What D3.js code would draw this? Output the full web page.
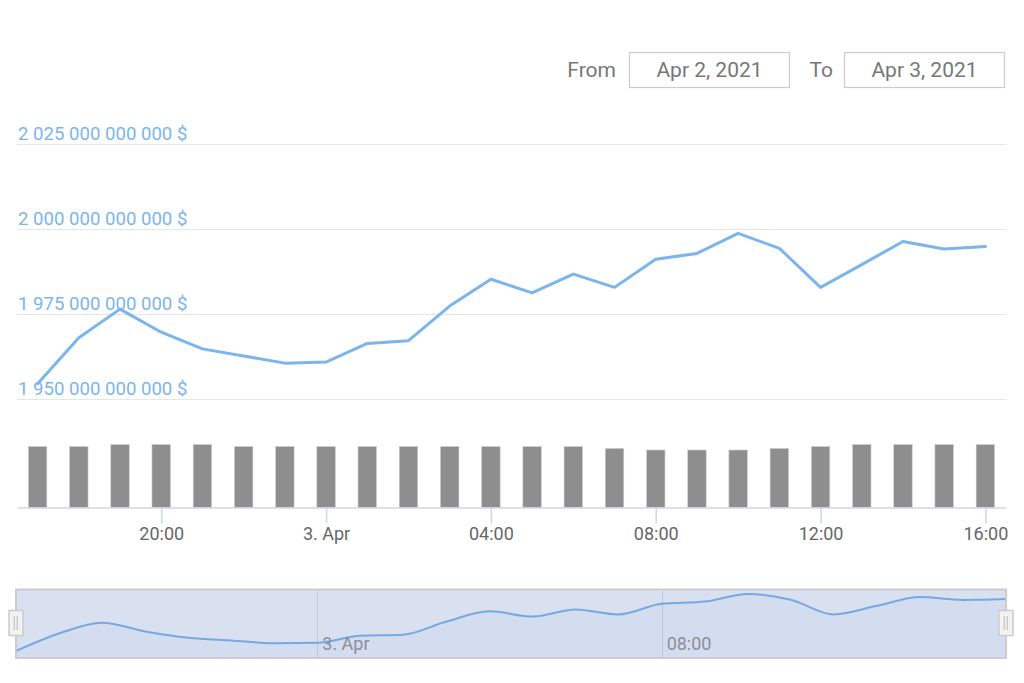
<!doctype html>
<html lang="en">
<head>
    <meta charset="UTF-8">
    <script src="https://cdnjs.cloudflare.com/ajax/libs/d3/7.0.0/d3.min.js"></script>
    <title>Market cap</title>
    <style>
        body { margin: 0; background: #fff; }
        text { font-family: Roboto, "Noto Sans", sans-serif; }
    </style>
</head>
<body>

<div id="Area"></div>

<script>

    // hourly points, Apr 2 17:00 -> Apr 3 16:00 (UTC)
    const hours = [
        "2021-04-02T17:00Z", "2021-04-02T18:00Z", "2021-04-02T19:00Z", "2021-04-02T20:00Z",
        "2021-04-02T21:00Z", "2021-04-02T22:00Z", "2021-04-02T23:00Z", "2021-04-03T00:00Z",
        "2021-04-03T01:00Z", "2021-04-03T02:00Z", "2021-04-03T03:00Z", "2021-04-03T04:00Z",
        "2021-04-03T05:00Z", "2021-04-03T06:00Z", "2021-04-03T07:00Z", "2021-04-03T08:00Z",
        "2021-04-03T09:00Z", "2021-04-03T10:00Z", "2021-04-03T11:00Z", "2021-04-03T12:00Z",
        "2021-04-03T13:00Z", "2021-04-03T14:00Z", "2021-04-03T15:00Z", "2021-04-03T16:00Z"
    ];

    // market cap, billions of $
    const marketCap = [
        1954.4, 1968.0, 1976.4, 1969.6, 1964.7, 1962.6, 1960.5, 1960.8,
        1966.3, 1967.1, 1977.3, 1985.2, 1981.2, 1986.7, 1982.8, 1991.1,
        1992.8, 1998.7, 1994.3, 1982.8, 1989.5, 1996.3, 1994.1, 1994.8
    ];

    // volume, billions of $
    const volume = [
        155, 155, 160, 160, 160, 155, 155, 155,
        155, 155, 155, 155, 155, 155, 150, 146,
        146, 146, 150, 155, 160, 160, 160, 160
    ];

    const yTicks = [1950, 1975, 2000, 2025];
    const xTicks = ["2021-04-02T20:00Z", "2021-04-03T00:00Z", "2021-04-03T04:00Z",
        "2021-04-03T08:00Z", "2021-04-03T12:00Z", "2021-04-03T16:00Z"];
    const navTicks = ["2021-04-03T00:00Z", "2021-04-03T08:00Z"];
    const rangeFrom = "Apr 2, 2021";
    const rangeTo = "Apr 3, 2021";

    const data = hours.map((h, i) => ({t: new Date(h), cap: marketCap[i], vol: volume[i]}));

    const W = 1024, H = 683;
    const left = 17, right = 1006;

    const svg = d3.select("#Area")
        .append("svg")
        .attr("width", W)
        .attr("height", H);

    const t0 = data[0].t, t1 = data[data.length - 1].t;
    const halfHour = 30 * 60 * 1000;

    const x = d3.scaleUtc()
        .domain([new Date(+t0 - halfHour), new Date(+t1 + halfHour)])
        .range([left, right]);

    const y = d3.scaleLinear().domain([1950, 2025]).range([398.8, 144]);
    const yVol = d3.scaleLinear().domain([0, 200]).range([507.5, 428.75]);

    const locale = d3.formatLocale({decimal: ".", thousands: " ", grouping: [3], currency: ["", "$"]});
    const fmtNum = locale.format(",.0f");
    const fmtCap = v => fmtNum(v * 1e9) + " $";
    const fmtTime = d => (d.getUTCHours() === 0 ? d3.utcFormat("%-d. %b")(d) : d3.utcFormat("%H:%M")(d));

    // grid + y labels
    const gridG = svg.append("g");
    gridG.selectAll("line")
        .data(yTicks)
        .join("line")
        .attr("x1", left).attr("x2", right)
        .attr("y1", d => Math.round(y(d)) + 0.5).attr("y2", d => Math.round(y(d)) + 0.5)
        .attr("stroke", "#e6e6e6")
        .attr("stroke-width", 1);

    gridG.selectAll("text")
        .data(yTicks)
        .join("text")
        .attr("x", 18)
        .attr("y", d => y(d) - 4)
        .attr("fill", "#7cb5ec")
        .attr("font-size", 18.6)
        .text(fmtCap);

    // volume bars
    const barW = 18.5;
    svg.append("g")
        .selectAll("rect")
        .data(data)
        .join("rect")
        .attr("x", d => x(d.t) - barW / 2)
        .attr("y", d => yVol(d.vol))
        .attr("width", barW)
        .attr("height", d => yVol(0) - yVol(d.vol))
        .attr("fill", "#8e8e8e")
        .attr("stroke", "#d0d0d0")
        .attr("stroke-width", 0.6);

    // x axis
    const xAxis = d3.axisBottom(x)
        .tickValues(xTicks.map(s => new Date(s)))
        .tickSize(16)
        .tickSizeOuter(0)
        .tickPadding(4)
        .tickFormat(fmtTime);

    const axG = svg.append("g")
        .attr("transform", "translate(0," + yVol(0) + ")")
        .call(xAxis);
    axG.select(".domain").attr("stroke", "#ccd6eb").attr("stroke-width", 1.5);
    axG.selectAll(".tick line").attr("stroke", "#ccd6eb").attr("stroke-width", 1.5);
    axG.selectAll(".tick text")
        .attr("font-size", 18)
        .attr("font-family", "Roboto")
        .attr("fill", "#666");

    // main line
    const line = d3.line()
        .x(d => x(d.t))
        .y(d => y(d.cap));

    svg.append("path")
        .datum(data)
        .attr("d", line)
        .attr("fill", "none")
        .attr("stroke", "#7cb5ec")
        .attr("stroke-width", 3)
        .attr("stroke-linejoin", "round")
        .attr("stroke-linecap", "round");

    // navigator
    const navTop = 589.5, navBottom = 658;
    const xNav = d3.scaleUtc().domain([t0, t1]).range([16, 1006]);
    const yNav = d3.scaleLinear()
        .domain([d3.min(marketCap), d3.max(marketCap)])
        .range([651, 594]);

    const navG = svg.append("g");

    navG.append("rect")
        .attr("x", 16).attr("y", navTop)
        .attr("width", 1006 - 16).attr("height", navBottom - navTop)
        .attr("fill", "#fff");

    navG.selectAll("line.grid")
        .data(navTicks.map(s => new Date(s)))
        .join("line")
        .attr("class", "grid")
        .attr("x1", d => Math.round(xNav(d)) + 0.5).attr("x2", d => Math.round(xNav(d)) + 0.5)
        .attr("y1", navTop).attr("y2", navBottom)
        .attr("stroke", "#e0e0e0");

    const navArea = d3.area()
        .x(d => xNav(d.t))
        .y0(navBottom)
        .y1(d => yNav(d.cap))
        .curve(d3.curveMonotoneX);

    navG.append("path")
        .datum(data)
        .attr("d", navArea)
        .attr("fill", "#7cb5ec")
        .attr("fill-opacity", 0.05);

    navG.append("path")
        .datum(data)
        .attr("d", navArea.lineY1())
        .attr("fill", "none")
        .attr("stroke", "#7cb5ec")
        .attr("stroke-width", 2);

    // selection mask
    navG.append("rect")
        .attr("x", 16).attr("y", navTop)
        .attr("width", 1006 - 16).attr("height", navBottom - navTop)
        .attr("fill", "rgba(102,133,194,0.25)");

    navG.selectAll("text")
        .data(navTicks.map(s => new Date(s)))
        .join("text")
        .attr("x", d => xNav(d) + 5)
        .attr("y", 650)
        .attr("font-size", 18)
        .attr("fill", "#8a8f99")
        .text(fmtTime);

    navG.append("rect")
        .attr("x", 16).attr("y", navTop)
        .attr("width", 1006 - 16).attr("height", navBottom - navTop)
        .attr("fill", "none")
        .attr("stroke", "#cccccc")
        .attr("stroke-width", 2);

    // handles
    const handles = navG.selectAll("g.handle")
        .data([16, 1006])
        .join("g")
        .attr("class", "handle")
        .attr("transform", d => "translate(" + d + ",0)");

    handles.append("rect")
        .attr("x", -7).attr("y", 610.5)
        .attr("width", 14).attr("height", 25)
        .attr("fill", "#f2f2f2")
        .attr("stroke", "#cccccc")
        .attr("stroke-width", 1.5);

    handles.selectAll("line")
        .data([-1.8, 1.2])
        .join("line")
        .attr("x1", d => d).attr("x2", d => d)
        .attr("y1", 616).attr("y2", 630)
        .attr("stroke", "#b8b8b8")
        .attr("stroke-width", 1);

    // range selector inputs
    const rs = svg.append("g");
    rs.append("text").attr("x", 616).attr("y", 77).attr("text-anchor", "end")
        .attr("font-size", 21).attr("fill", "#777").text("From");
    rs.append("text").attr("x", 833).attr("y", 77).attr("text-anchor", "end")
        .attr("font-size", 21).attr("fill", "#777").text("To");

    const boxes = rs.selectAll("g.box")
        .data([{x: 629, label: rangeFrom}, {x: 844, label: rangeTo}])
        .join("g")
        .attr("class", "box");

    boxes.append("rect")
        .attr("x", d => d.x + 0.5).attr("y", 52.5)
        .attr("width", 160).attr("height", 35)
        .attr("fill", "#fff")
        .attr("stroke", "#cccccc")
        .attr("stroke-width", 1.2);

    boxes.append("text")
        .attr("x", d => d.x + 80.5)
        .attr("y", 77)
        .attr("text-anchor", "middle")
        .attr("font-size", 21)
        .attr("fill", "#777")
        .text(d => d.label);

</script>
</body>
</html>
